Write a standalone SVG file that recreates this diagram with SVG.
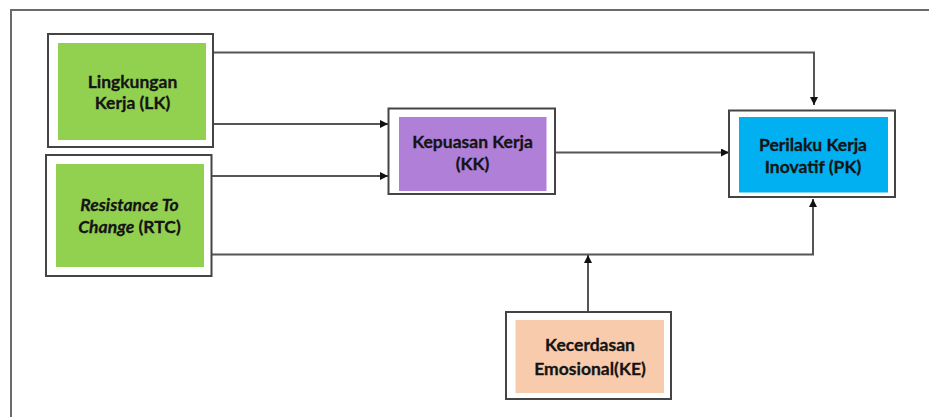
<svg xmlns="http://www.w3.org/2000/svg" width="929" height="417" viewBox="0 0 929 417">
<defs>
<style>
.frame{fill:none;stroke:#6a6a6a;stroke-width:2}
.outer{fill:#fff;stroke:#444;stroke-width:2}
.lbl{font-family:Lato,"Open Sans","Liberation Sans",sans-serif;font-weight:bold;font-size:17.5px;fill:#141414;text-anchor:middle;stroke:#141414;stroke-width:0.3}
.it{font-style:italic}
.con{fill:none;stroke:#555;stroke-width:2}
</style>
<marker id="ah" viewBox="0 0 10 10" refX="10" refY="5" markerWidth="10" markerHeight="8" markerUnits="userSpaceOnUse" orient="auto">
<path d="M0,0 L10,5 L0,10 z" fill="#111"/>
</marker>
</defs>
<rect width="929" height="417" fill="#fff"/>
<path class="frame" d="M11,418 L11,10 L930,10"/>
<g id="connectors">
<path class="con" d="M213,52.5 L814,52.5 L814,105" marker-end="url(#ah)"/>
<path class="con" d="M213,124 L388,124" marker-end="url(#ah)"/>
<path class="con" d="M209,176 L388,176" marker-end="url(#ah)"/>
<path class="con" d="M555,152.5 L729,152.5" marker-end="url(#ah)"/>
<path class="con" d="M211,254.5 L813,254.5 L813,199" marker-end="url(#ah)"/>
<path class="con" d="M588,312 L588,255" marker-end="url(#ah)"/>
</g>
<g id="LK">
<rect class="outer" x="48" y="34" width="165" height="113"/>
<rect x="58" y="43" width="148" height="97" fill="#92D050"/>
<text class="lbl" x="132.5" y="88">Lingkungan</text>
<text class="lbl" x="132.5" y="109">Kerja (LK)</text>
</g>
<g id="RTC">
<rect class="outer" x="46" y="155" width="165.5" height="121"/>
<rect x="56" y="164" width="148" height="103" fill="#92D050"/>
<text class="lbl it" x="129.5" y="210.5">Resistance To</text>
<text class="lbl" x="129.5" y="233"><tspan class="it">Change</tspan> (RTC)</text>
</g>
<g id="KK">
<rect class="outer" x="388.5" y="108.5" width="166.5" height="85.5"/>
<rect x="399" y="117" width="147.5" height="74" fill="#B07FD8"/>
<text class="lbl" x="472.5" y="148">Kepuasan Kerja</text>
<text class="lbl" x="472.5" y="170">(KK)</text>
</g>
<g id="PK">
<rect class="outer" x="729" y="110.5" width="166" height="86.5"/>
<rect x="739" y="117" width="149" height="75.5" fill="#00B0F0"/>
<text class="lbl" x="813" y="150.5">Perilaku Kerja</text>
<text class="lbl" x="813" y="173">Inovatif (PK)</text>
</g>
<g id="KE">
<rect class="outer" x="506" y="312" width="165" height="87"/>
<rect x="515.5" y="320" width="148.5" height="73" fill="#F8CBAD"/>
<text class="lbl" x="590" y="351">Kecerdasan</text>
<text class="lbl" x="590" y="375">Emosional(KE)</text>
</g>
</svg>
